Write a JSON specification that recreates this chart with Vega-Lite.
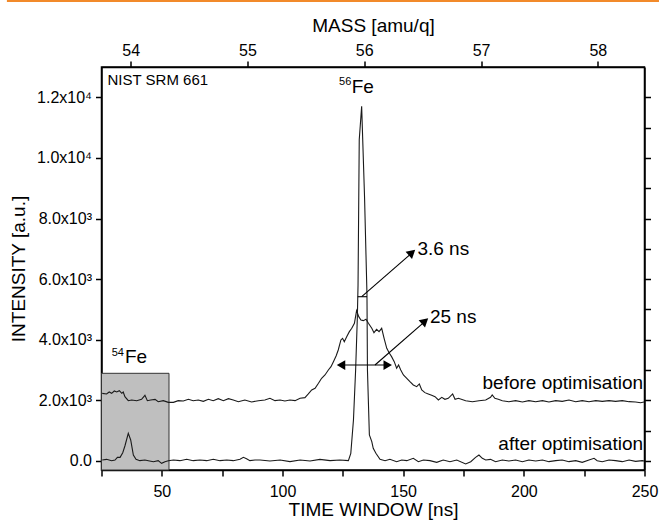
{
  "$schema": "https://vega.github.io/schema/vega-lite/v6.json",
  "width": 543,
  "height": 403,
  "autosize": {"type": "none"},
  "padding": {"left": 101.5, "top": 67, "right": 14.5, "bottom": 50},
  "background": "white",
  "config": {
    "font": "Liberation Sans",
    "view": {"stroke": "#000", "strokeWidth": 1.5},
    "axis": {
      "domainColor": "#000", "domainWidth": 1.5, "tickColor": "#000", "tickWidth": 1.5,
      "labelColor": "#000", "titleColor": "#000", "labelFont": "Liberation Sans", "titleFont": "Liberation Sans",
      "labelFontSize": 16, "titleFontSize": 19, "titleFontWeight": "normal", "grid": false, "tickSize": 6,
      "labelOverlap": false, "labelFlush": false
    }
  },
  "datasets": {
    "spectra": [
      {"s": "before", "t": 25.3, "v": 2230}, {"s": "before", "t": 27.1, "v": 2208}, {"s": "before", "t": 28.2, "v": 2274},
      {"s": "before", "t": 29.2, "v": 2230}, {"s": "before", "t": 30.3, "v": 2307}, {"s": "before", "t": 31.3, "v": 2274},
      {"s": "before", "t": 32.4, "v": 2318}, {"s": "before", "t": 33.4, "v": 2230}, {"s": "before", "t": 34.0, "v": 2274},
      {"s": "before", "t": 34.7, "v": 2120}, {"s": "before", "t": 36.1, "v": 1988}, {"s": "before", "t": 37.5, "v": 2010},
      {"s": "before", "t": 39.6, "v": 1988}, {"s": "before", "t": 41.6, "v": 2032}, {"s": "before", "t": 43.0, "v": 2164},
      {"s": "before", "t": 44.0, "v": 1988}, {"s": "before", "t": 45.4, "v": 2010}, {"s": "before", "t": 47.2, "v": 2032},
      {"s": "before", "t": 48.5, "v": 1955}, {"s": "before", "t": 50.6, "v": 1988}, {"s": "before", "t": 52.7, "v": 1933},
      {"s": "before", "t": 54.8, "v": 1933}, {"s": "before", "t": 56.8, "v": 1988}, {"s": "before", "t": 58.9, "v": 1977},
      {"s": "before", "t": 61.0, "v": 2032}, {"s": "before", "t": 63.0, "v": 1988}, {"s": "before", "t": 65.1, "v": 2010},
      {"s": "before", "t": 67.2, "v": 1966}, {"s": "before", "t": 69.3, "v": 2032}, {"s": "before", "t": 71.3, "v": 1988},
      {"s": "before", "t": 73.4, "v": 2054}, {"s": "before", "t": 75.5, "v": 1988}, {"s": "before", "t": 77.6, "v": 2054},
      {"s": "before", "t": 79.6, "v": 2010}, {"s": "before", "t": 81.7, "v": 1955}, {"s": "before", "t": 84.4, "v": 2010},
      {"s": "before", "t": 87.2, "v": 1944}, {"s": "before", "t": 90.0, "v": 1988}, {"s": "before", "t": 92.7, "v": 2011},
      {"s": "before", "t": 94.8, "v": 2066}, {"s": "before", "t": 96.9, "v": 1989}, {"s": "before", "t": 99.0, "v": 2011},
      {"s": "before", "t": 101.0, "v": 1978}, {"s": "before", "t": 103.1, "v": 2011}, {"s": "before", "t": 105.2, "v": 1989},
      {"s": "before", "t": 107.3, "v": 2066}, {"s": "before", "t": 109.3, "v": 2088}, {"s": "before", "t": 110.7, "v": 2209},
      {"s": "before", "t": 112.1, "v": 2341}, {"s": "before", "t": 113.5, "v": 2396}, {"s": "before", "t": 114.9, "v": 2561},
      {"s": "before", "t": 116.2, "v": 2726}, {"s": "before", "t": 117.6, "v": 2836}, {"s": "before", "t": 119.0, "v": 3001},
      {"s": "before", "t": 120.1, "v": 3111}, {"s": "before", "t": 121.1, "v": 3276}, {"s": "before", "t": 122.2, "v": 3463},
      {"s": "before", "t": 123.1, "v": 3661}, {"s": "before", "t": 124.2, "v": 3991}, {"s": "before", "t": 124.9, "v": 4046},
      {"s": "before", "t": 125.6, "v": 3936}, {"s": "before", "t": 126.6, "v": 4101}, {"s": "before", "t": 127.7, "v": 4266},
      {"s": "before", "t": 128.7, "v": 4376}, {"s": "before", "t": 129.8, "v": 4541}, {"s": "before", "t": 130.7, "v": 4959},
      {"s": "before", "t": 131.6, "v": 4761}, {"s": "before", "t": 132.5, "v": 4651}, {"s": "before", "t": 133.5, "v": 4629},
      {"s": "before", "t": 134.6, "v": 4673}, {"s": "before", "t": 135.6, "v": 4541}, {"s": "before", "t": 137.0, "v": 4376},
      {"s": "before", "t": 137.9, "v": 4233}, {"s": "before", "t": 139.0, "v": 4343}, {"s": "before", "t": 140.0, "v": 4266},
      {"s": "before", "t": 141.1, "v": 4376}, {"s": "before", "t": 142.1, "v": 4046}, {"s": "before", "t": 143.2, "v": 3716},
      {"s": "before", "t": 144.3, "v": 3551}, {"s": "before", "t": 145.2, "v": 3441}, {"s": "before", "t": 146.3, "v": 3276},
      {"s": "before", "t": 147.3, "v": 3056}, {"s": "before", "t": 148.1, "v": 3166}, {"s": "before", "t": 149.0, "v": 3001},
      {"s": "before", "t": 150.1, "v": 2836}, {"s": "before", "t": 151.5, "v": 2726}, {"s": "before", "t": 152.8, "v": 2616},
      {"s": "before", "t": 154.2, "v": 2506}, {"s": "before", "t": 155.6, "v": 2451}, {"s": "before", "t": 156.7, "v": 2539},
      {"s": "before", "t": 157.7, "v": 2341}, {"s": "before", "t": 159.0, "v": 2253}, {"s": "before", "t": 160.4, "v": 2209},
      {"s": "before", "t": 161.8, "v": 2165}, {"s": "before", "t": 163.2, "v": 2121}, {"s": "before", "t": 164.6, "v": 2011},
      {"s": "before", "t": 166.0, "v": 2099}, {"s": "before", "t": 167.3, "v": 2033}, {"s": "before", "t": 168.7, "v": 2066},
      {"s": "before", "t": 170.5, "v": 2209}, {"s": "before", "t": 171.5, "v": 2033}, {"s": "before", "t": 172.9, "v": 2066},
      {"s": "before", "t": 175.9, "v": 1988}, {"s": "before", "t": 178.7, "v": 1955}, {"s": "before", "t": 181.4, "v": 1988},
      {"s": "before", "t": 184.2, "v": 2010}, {"s": "before", "t": 186.2, "v": 2098}, {"s": "before", "t": 186.9, "v": 2175},
      {"s": "before", "t": 188.0, "v": 2065}, {"s": "before", "t": 189.4, "v": 2032}, {"s": "before", "t": 191.1, "v": 1988},
      {"s": "before", "t": 193.8, "v": 1955}, {"s": "before", "t": 196.6, "v": 1988}, {"s": "before", "t": 199.4, "v": 1944},
      {"s": "before", "t": 202.1, "v": 1988}, {"s": "before", "t": 204.9, "v": 1955}, {"s": "before", "t": 207.7, "v": 1988},
      {"s": "before", "t": 210.4, "v": 1944}, {"s": "before", "t": 213.2, "v": 1988}, {"s": "before", "t": 215.9, "v": 1966},
      {"s": "before", "t": 218.7, "v": 2010}, {"s": "before", "t": 221.5, "v": 1955}, {"s": "before", "t": 224.2, "v": 1988},
      {"s": "before", "t": 227.0, "v": 1955}, {"s": "before", "t": 229.8, "v": 1988}, {"s": "before", "t": 232.5, "v": 1966},
      {"s": "before", "t": 235.3, "v": 1988}, {"s": "before", "t": 238.0, "v": 1966}, {"s": "before", "t": 240.8, "v": 1988},
      {"s": "before", "t": 243.6, "v": 1955}, {"s": "before", "t": 246.3, "v": 1944}, {"s": "before", "t": 248.4, "v": 1922},
      {"s": "before", "t": 249.8, "v": 1944},
      {"s": "after", "t": 25.3, "v": 30}, {"s": "after", "t": 27.1, "v": 52}, {"s": "after", "t": 29.2, "v": 8},
      {"s": "after", "t": 30.6, "v": 30}, {"s": "after", "t": 31.6, "v": 118}, {"s": "after", "t": 32.7, "v": 118},
      {"s": "after", "t": 33.8, "v": 272}, {"s": "after", "t": 34.7, "v": 492}, {"s": "after", "t": 36.1, "v": 910},
      {"s": "after", "t": 37.1, "v": 690}, {"s": "after", "t": 38.2, "v": 195}, {"s": "after", "t": 39.3, "v": 52},
      {"s": "after", "t": 40.9, "v": 8}, {"s": "after", "t": 43.0, "v": 30}, {"s": "after", "t": 44.4, "v": 8},
      {"s": "after", "t": 46.5, "v": -25}, {"s": "after", "t": 48.5, "v": 8}, {"s": "after", "t": 49.9, "v": -80},
      {"s": "after", "t": 51.3, "v": -25}, {"s": "after", "t": 52.7, "v": 8}, {"s": "after", "t": 54.8, "v": 30},
      {"s": "after", "t": 57.5, "v": 8}, {"s": "after", "t": 60.3, "v": 52}, {"s": "after", "t": 63.0, "v": 8},
      {"s": "after", "t": 65.8, "v": 30}, {"s": "after", "t": 68.6, "v": 8}, {"s": "after", "t": 71.3, "v": 52},
      {"s": "after", "t": 74.1, "v": 8}, {"s": "after", "t": 76.9, "v": 30}, {"s": "after", "t": 79.6, "v": 8},
      {"s": "after", "t": 82.4, "v": 52}, {"s": "after", "t": 83.8, "v": 118}, {"s": "after", "t": 85.1, "v": 74},
      {"s": "after", "t": 86.5, "v": 8}, {"s": "after", "t": 88.6, "v": 30}, {"s": "after", "t": 90.7, "v": 30},
      {"s": "after", "t": 94.8, "v": -3}, {"s": "after", "t": 99.0, "v": 30}, {"s": "after", "t": 103.1, "v": -25},
      {"s": "after", "t": 107.3, "v": 30}, {"s": "after", "t": 111.4, "v": -3}, {"s": "after", "t": 115.5, "v": 52},
      {"s": "after", "t": 119.7, "v": 8}, {"s": "after", "t": 123.8, "v": 30}, {"s": "after", "t": 127.3, "v": 8},
      {"s": "after", "t": 128.3, "v": 250}, {"s": "after", "t": 129.4, "v": 1350}, {"s": "after", "t": 130.3, "v": 3000},
      {"s": "after", "t": 131.0, "v": 4700}, {"s": "after", "t": 131.3, "v": 5800}, {"s": "after", "t": 131.8, "v": 10600},
      {"s": "after", "t": 132.8, "v": 11700}, {"s": "after", "t": 134.0, "v": 8700}, {"s": "after", "t": 135.0, "v": 5500},
      {"s": "after", "t": 135.2, "v": 3000}, {"s": "after", "t": 136.0, "v": 855}, {"s": "after", "t": 137.0, "v": 635},
      {"s": "after", "t": 137.6, "v": 415}, {"s": "after", "t": 138.7, "v": 250}, {"s": "after", "t": 140.4, "v": 52},
      {"s": "after", "t": 142.5, "v": 8}, {"s": "after", "t": 144.5, "v": 52}, {"s": "after", "t": 147.3, "v": -25},
      {"s": "after", "t": 149.4, "v": 30}, {"s": "after", "t": 151.5, "v": 8}, {"s": "after", "t": 154.2, "v": 85},
      {"s": "after", "t": 156.3, "v": -25}, {"s": "after", "t": 158.4, "v": 30}, {"s": "after", "t": 161.1, "v": 8},
      {"s": "after", "t": 163.9, "v": -47}, {"s": "after", "t": 166.6, "v": 30}, {"s": "after", "t": 169.4, "v": -25},
      {"s": "after", "t": 172.2, "v": 30}, {"s": "after", "t": 175.9, "v": -102}, {"s": "after", "t": 178.0, "v": -25},
      {"s": "after", "t": 180.0, "v": 118}, {"s": "after", "t": 181.4, "v": 195}, {"s": "after", "t": 182.8, "v": 85},
      {"s": "after", "t": 184.2, "v": 30}, {"s": "after", "t": 186.2, "v": 52}, {"s": "after", "t": 188.3, "v": -25},
      {"s": "after", "t": 191.1, "v": 30}, {"s": "after", "t": 193.8, "v": -3}, {"s": "after", "t": 196.6, "v": 30},
      {"s": "after", "t": 199.4, "v": -25}, {"s": "after", "t": 202.1, "v": 30}, {"s": "after", "t": 204.9, "v": -3},
      {"s": "after", "t": 207.7, "v": 30}, {"s": "after", "t": 210.4, "v": -25}, {"s": "after", "t": 213.2, "v": 8},
      {"s": "after", "t": 215.9, "v": 30}, {"s": "after", "t": 218.7, "v": -25}, {"s": "after", "t": 221.5, "v": 8},
      {"s": "after", "t": 224.2, "v": -47}, {"s": "after", "t": 227.0, "v": 30}, {"s": "after", "t": 229.1, "v": 85},
      {"s": "after", "t": 230.4, "v": 8}, {"s": "after", "t": 232.5, "v": -25}, {"s": "after", "t": 235.3, "v": 30},
      {"s": "after", "t": 238.0, "v": 8}, {"s": "after", "t": 240.8, "v": -25}, {"s": "after", "t": 243.6, "v": 30},
      {"s": "after", "t": 246.3, "v": -14}, {"s": "after", "t": 249.1, "v": 8}, {"s": "after", "t": 249.8, "v": -3}
    ],
    "rules": [
      {"t": 131.16, "t2": 135.01, "v": 5419, "v2": 5419},
      {"t": 132.82, "t2": 153.3, "v": 5419, "v2": 6840},
      {"t": 124.6, "t2": 143.2, "v": 3165, "v2": 3165},
      {"t": 138.33, "t2": 158.7, "v": 3165, "v2": 4580}
    ]
  },
  "layer": [
    {
      "layer": [
        {
          "data": {"values": [{"t": 25, "t2": 52.97, "v": -300, "v2": 2891}]},
          "mark": {"type": "rect", "fill": "#bfbfbf", "stroke": "#333", "strokeWidth": 1},
          "encoding": {
            "x": {"field": "t", "type": "quantitative", "scale": {"domain": [25, 250], "nice": false, "zero": false},
              "axis": {"orient": "bottom", "values": [25, 50, 75, 100, 125, 150, 175, 200, 225, 250],
                "labelExpr": "datum.value % 50 === 0 ? datum.label : ''", "title": "TIME WINDOW [ns]",
                "labelPadding": 7, "titlePadding": 1}},
            "x2": {"field": "t2"},
            "y": {"field": "v", "type": "quantitative", "scale": {"domain": [-300, 13000], "nice": false, "zero": false},
              "axis": {"orient": "left", "values": [0, 1000, 2000, 3000, 4000, 5000, 6000, 7000, 8000, 9000, 10000, 11000, 12000],
                "labelExpr": "datum.value === 0 ? '0.0' : (datum.value % 2000 !== 0 ? '' : (datum.value >= 10000 ? format(datum.value / 10000, '.1f') + 'x10⁴' : format(datum.value / 1000, '.1f') + 'x10³'))",
                "title": "INTENSITY [a.u.]", "labelPadding": 4, "titlePadding": 8}},
            "y2": {"field": "v2"}
          }
        },
        {
          "data": {"name": "spectra"},
          "mark": {"type": "line", "stroke": "#1a1a1a", "strokeWidth": 1.1},
          "encoding": {
            "x": {"field": "t", "type": "quantitative"},
            "y": {"field": "v", "type": "quantitative"},
            "detail": {"field": "s"}
          }
        },
        {
          "data": {"name": "rules"},
          "mark": {"type": "rule", "stroke": "#000", "strokeWidth": 1.1},
          "encoding": {
            "x": {"field": "t", "type": "quantitative"},
            "x2": {"field": "t2"},
            "y": {"field": "v", "type": "quantitative"},
            "y2": {"field": "v2"}
          }
        },
        {
          "data": {"values": [{"t": 153.66, "v": 6875}]},
          "mark": {"type": "point", "shape": "triangle-right", "angle": -41.2, "filled": true, "color": "#000", "size": 95, "opacity": 1},
          "encoding": {"x": {"field": "t", "type": "quantitative"}, "y": {"field": "v", "type": "quantitative"}}
        },
        {
          "data": {"values": [{"t": 159.05, "v": 4614}]},
          "mark": {"type": "point", "shape": "triangle-right", "angle": -40.8, "filled": true, "color": "#000", "size": 95, "opacity": 1},
          "encoding": {"x": {"field": "t", "type": "quantitative"}, "y": {"field": "v", "type": "quantitative"}}
        },
        {
          "data": {"values": [{"t": 124.24, "v": 3165}]},
          "mark": {"type": "point", "shape": "triangle-left", "filled": true, "color": "#000", "size": 95, "opacity": 1},
          "encoding": {"x": {"field": "t", "type": "quantitative"}, "y": {"field": "v", "type": "quantitative"}}
        },
        {
          "data": {"values": [{"t": 143.59, "v": 3165}]},
          "mark": {"type": "point", "shape": "triangle-right", "filled": true, "color": "#000", "size": 95, "opacity": 1},
          "encoding": {"x": {"field": "t", "type": "quantitative"}, "y": {"field": "v", "type": "quantitative"}}
        },
        {
          "data": {"values": [{"t": 27.5, "v": 12406, "label": "NIST SRM 661"}]},
          "mark": {"type": "text", "align": "left", "baseline": "alphabetic", "fontSize": 15, "font": "Liberation Sans", "color": "#000"},
          "encoding": {"x": {"field": "t", "type": "quantitative"}, "y": {"field": "v", "type": "quantitative"}, "text": {"field": "label"}}
        },
        {
          "data": {"values": [
            {"t": 128.7, "v": 12132, "label": "Fe"},
            {"t": 34.7, "v": 3221, "label": "Fe"},
            {"t": 155.9, "v": 6812, "label": "3.6 ns"},
            {"t": 161.1, "v": 4555, "label": "25 ns"}
          ]},
          "mark": {"type": "text", "align": "left", "baseline": "alphabetic", "fontSize": 19, "font": "Liberation Sans", "color": "#000"},
          "encoding": {"x": {"field": "t", "type": "quantitative"}, "y": {"field": "v", "type": "quantitative"}, "text": {"field": "label"}}
        },
        {
          "data": {"values": [
            {"t": 128.5, "v": 12406, "label": "56"},
            {"t": 34.3, "v": 3462, "label": "54"}
          ]},
          "mark": {"type": "text", "align": "right", "baseline": "alphabetic", "fontSize": 11, "font": "Liberation Sans", "color": "#000"},
          "encoding": {"x": {"field": "t", "type": "quantitative"}, "y": {"field": "v", "type": "quantitative"}, "text": {"field": "label"}}
        },
        {
          "data": {"values": [
            {"t": 249.4, "v": 2373, "label": "before optimisation"},
            {"t": 249.4, "v": 360, "label": "after optimisation"}
          ]},
          "mark": {"type": "text", "align": "right", "baseline": "alphabetic", "fontSize": 19, "font": "Liberation Sans", "color": "#000"},
          "encoding": {"x": {"field": "t", "type": "quantitative"}, "y": {"field": "v", "type": "quantitative"}, "text": {"field": "label"}}
        },
        {
          "data": {"values": [{}]},
          "mark": {"type": "rule", "stroke": "#f28a2a", "strokeWidth": 2, "clip": false},
          "encoding": {
            "x": {"datum": -14.2, "type": "quantitative"},
            "x2": {"datum": 256},
            "y": {"datum": 15178, "type": "quantitative"}
          }
        }
      ]
    },
    {
      "data": {"values": [{"m": 54, "v": 0}, {"m": 58, "v": 12000}]},
      "mark": {"type": "point", "opacity": 0},
      "encoding": {
        "x": {"field": "m", "type": "quantitative", "scale": {"domain": [53.75, 58.4], "nice": false, "zero": false},
          "axis": {"orient": "top", "values": [54, 55, 56, 57, 58], "format": "d", "title": "MASS [amu/q]", "labelPadding": 3, "titlePadding": 7}},
        "y": {"field": "v", "type": "quantitative", "scale": {"domain": [-300, 13000], "nice": false, "zero": false},
          "axis": {"orient": "right", "values": [0, 1000, 2000, 3000, 4000, 5000, 6000, 7000, 8000, 9000, 10000, 11000, 12000], "labels": false, "title": null}}
      }
    }
  ],
  "resolve": {"scale": {"x": "independent", "y": "independent"}, "axis": {"x": "independent", "y": "independent"}}
}
